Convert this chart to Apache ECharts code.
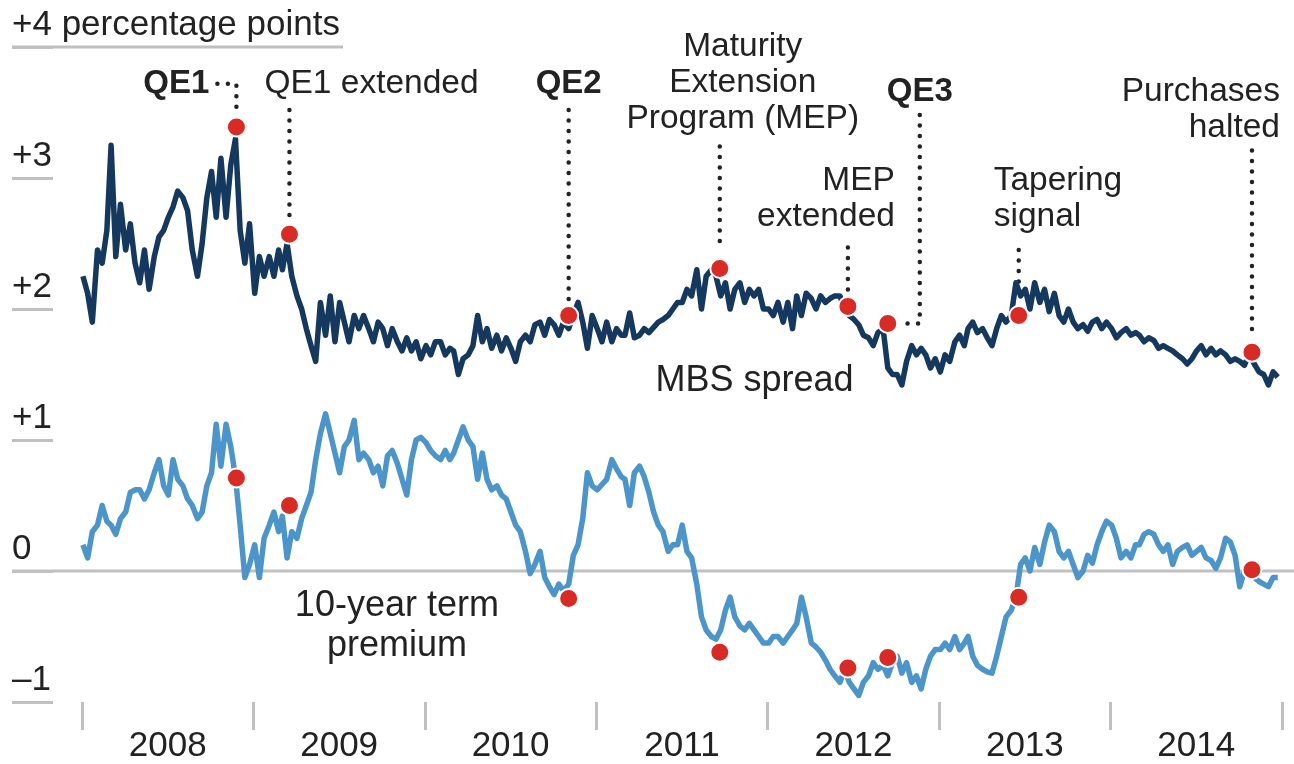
<!DOCTYPE html>
<html>
<head>
<meta charset="utf-8">
<script src="https://cdn.jsdelivr.net/npm/echarts@6/dist/echarts.min.js"></script>
<style>
  html, body { margin: 0; padding: 0; background: #fff; }
  #main { width: 1294px; height: 764px; }
</style>
</head>
<body>
<div id="main"></div>
<script>
  // x axis years, three readings per month
  const years = ['2008', '2009', '2010', '2011', '2012', '2013', '2014'];
  const sampleDays = [3, 13, 23];

  // MBS spread, percentage points (Jan 2008 .. Dec 2014)
  const mbsSpread = [
    2.25, 2.12, 1.9,  2.45, 2.35, 2.6,  3.25, 2.4, 2.8,  2.45, 2.65, 2.35,
    2.2, 2.45, 2.15,  2.4, 2.55, 2.6,  2.7, 2.78, 2.9,  2.85, 2.75, 2.45,
    2.25, 2.5, 2.85,  3.05, 2.7, 3.15,  2.7, 3.1, 3.3,  2.6, 2.35, 2.65,
    // 2009
    2.12, 2.4, 2.25,  2.4, 2.25, 2.45,  2.3, 2.5, 2.25,  2.1, 2.0, 1.85,
    1.72, 1.6, 2.05,  1.8, 2.1, 1.75,  2.05, 1.9, 1.75,  1.95, 1.85, 1.95,
    1.85, 1.75, 1.9,  1.85, 1.72, 1.85,  1.75, 1.68, 1.78,  1.68, 1.75, 1.62,
    // 2010
    1.72, 1.65, 1.75,  1.75, 1.65, 1.7,  1.68, 1.5, 1.62,  1.65, 1.72, 1.95,
    1.75, 1.85, 1.7,  1.8, 1.68, 1.78,  1.7, 1.6, 1.75,  1.8, 1.75, 1.88,
    1.9, 1.8, 1.92,  1.88, 1.8, 1.9,  1.85, 1.95, 2.05,  1.9, 1.7, 1.95,
    // 2011
    1.85, 1.75, 1.9,  1.75, 1.85, 1.8,  1.8, 1.97, 1.78,  1.8, 1.85, 1.82,
    1.86, 1.9, 1.92,  1.95, 2.0, 2.05,  2.05, 2.15, 2.1,  2.3, 2.0, 2.25,
    2.3, 2.25, 2.1,  2.2, 2.0, 2.15,  2.2, 2.05, 2.15,  2.1, 2.15, 2.0,
    // 2012
    2.0, 1.95, 2.05,  1.9, 2.05, 1.85,  2.1, 1.95, 2.12,  2.08, 2.0, 2.1,
    2.05, 2.08, 2.1,  2.1, 2.0, 1.95,  1.92, 1.88, 1.8,  1.78, 1.72, 1.82,
    1.85, 1.55, 1.5,  1.5, 1.42, 1.6,  1.72, 1.65, 1.7,  1.65, 1.55, 1.62,
    // 2013
    1.52, 1.65, 1.6,  1.75, 1.8, 1.72,  1.85, 1.9, 1.82,  1.85, 1.78, 1.72,
    1.85, 1.95, 1.9,  1.95, 2.2, 2.1,  2.15, 2.0, 2.2,  2.05, 2.15, 1.98,
    2.12, 1.95, 1.9,  2.0, 1.9, 1.85,  1.88, 1.83, 1.9,  1.92, 1.85, 1.9,
    // 2014
    1.85, 1.78, 1.82,  1.85, 1.8, 1.82,  1.8, 1.75, 1.78,  1.76, 1.7, 1.72,
    1.7, 1.68, 1.65,  1.62, 1.58, 1.62,  1.68, 1.72, 1.65,  1.7, 1.65, 1.68,
    1.65, 1.6, 1.62,  1.6, 1.57, 1.66,  1.58, 1.52, 1.5,  1.42, 1.52, 1.48
  ];

  // 10-year term premium, percentage points
  const termPremium = [
    0.2, 0.1, 0.3,  0.35, 0.5, 0.38,  0.35, 0.28, 0.4,  0.45, 0.6, 0.62,
    0.62, 0.55, 0.62,  0.75, 0.85, 0.65,  0.58, 0.85, 0.7,  0.65, 0.55, 0.5,
    0.4, 0.45, 0.65,  0.75, 1.12, 0.8,  1.12, 0.95, 0.72,  0.35, -0.05, 0.05,
    // 2009
    0.2, -0.05, 0.25,  0.35, 0.45, 0.3,  0.42, 0.1, 0.3,  0.25, 0.4, 0.5,
    0.6, 0.85, 1.05,  1.2, 1.05, 0.9,  0.75, 0.95, 1.0,  1.15, 0.85, 0.9,
    0.85, 0.75, 0.8,  0.65, 0.88, 0.92,  0.82, 0.7, 0.58,  0.85, 1.0, 1.02,
    // 2010
    0.98, 0.92, 0.88,  0.85, 0.92, 0.85,  0.9, 1.0, 1.1,  1.0, 0.95, 0.7,
    0.9, 0.7, 0.62,  0.65, 0.58, 0.55,  0.45, 0.35, 0.3,  0.15, -0.02, 0.05,
    0.15, -0.05, -0.12,  -0.18, -0.1, -0.15,  -0.1, 0.12, 0.2,  0.4, 0.75, 0.65,
    // 2011
    0.62, 0.66, 0.7,  0.85, 0.78, 0.72,  0.7, 0.5, 0.75,  0.8, 0.72, 0.6,
    0.45, 0.35, 0.3,  0.15, 0.2, 0.2,  0.35, 0.15, 0.1,  -0.1, -0.35, -0.45,
    -0.5, -0.52, -0.45,  -0.3, -0.2, -0.35,  -0.42, -0.45, -0.4,  -0.45, -0.5, -0.55,
    // 2012
    -0.55, -0.5, -0.5,  -0.55, -0.5, -0.45,  -0.4, -0.2, -0.35,  -0.55, -0.58, -0.62,
    -0.68, -0.75, -0.8,  -0.85, -0.75, -0.85,  -0.9, -0.95, -0.85,  -0.8, -0.7, -0.75,
    -0.72, -0.8, -0.7,  -0.65, -0.78, -0.7,  -0.85, -0.8, -0.9,  -0.75, -0.65, -0.6,
    // 2013
    -0.6, -0.55, -0.6,  -0.5, -0.6, -0.55,  -0.5, -0.65, -0.72,  -0.75, -0.77, -0.78,
    -0.65, -0.5, -0.35,  -0.3, -0.2, 0.05,  0.1, 0.0, 0.18,  0.05, 0.22, 0.35,
    0.3, 0.15, 0.1,  0.15, 0.05, -0.05,  0.0, 0.12, 0.06,  0.2, 0.3, 0.38,
    // 2014
    0.35, 0.25, 0.1,  0.15, 0.1, 0.2,  0.2, 0.28, 0.3,  0.28, 0.2, 0.15,
    0.2, 0.05, 0.15,  0.18, 0.2, 0.12,  0.15, 0.18, 0.1,  0.08, 0.02, 0.1,
    0.25, 0.22, 0.12,  -0.12, 0.0, -0.02,  -0.05, -0.08, -0.1,  -0.12, -0.05, -0.05
  ];

  // policy events (red dots)
  const eventNames = ['QE1', 'QE1 extended', 'QE2', 'MEP', 'MEP extended', 'QE3', 'Tapering signal', 'Purchases halted'];
  const eventDates = ['2008-11-25', '2009-03-18', '2010-11-03', '2011-09-21', '2012-06-20', '2012-09-13', '2013-06-19', '2014-10-29'];
  const mbsAtEvent = [3.39, 2.57, 1.95, 2.31, 2.02, 1.89, 1.95, 1.67];
  const tpAtEvent = [0.71, 0.50, -0.21, -0.62, -0.74, -0.66, -0.20, 0.01];

  const yTicks = [-1, 0, 1, 2, 3, 4];
  const yTickLabels = ['\u20131', '0', '+1', '+2', '+3', '+4 percentage points'];

  // where the annotation text and leaders go (y in data units, dx in px)
  const noteLayout = {
    'QE1':              { text: 'QE1', bold: true, y: 3.72, align: 'right', dx: -27, lead: [[-19, 3.72], [0, 3.72], [0, 3.50]] },
    'QE1 extended':     { text: 'QE1 extended', y: 3.72, align: 'left', dx: -25, lead: [[0, 3.52], [0, 2.66]] },
    'QE2':              { text: 'QE2', bold: true, y: 3.72, align: 'center', dx: 0, lead: [[0, 3.52], [0, 2.05]] },
    'MEP':              { text: 'Maturity\nExtension\nProgram (MEP)', y: 3.73, align: 'center', dx: 23, lead: [[0, 3.24], [0, 2.44]] },
    'MEP extended':     { text: 'MEP\nextended', y: 2.84, align: 'right', dx: 47, lead: [[0, 2.47], [0, 2.11]] },
    'QE3':              { text: 'QE3', bold: true, y: 3.66, align: 'left', dx: -1, lead: [[32, 3.48], [32, 1.89], [15, 1.89]] },
    'Tapering signal':  { text: 'Tapering\nsignal', y: 2.84, align: 'left', dx: -25, lead: [[0, 2.45], [0, 2.12]] },
    'Purchases halted': { text: 'Purchases\nhalted', y: 3.52, align: 'right', dx: 28, lead: [[0, 3.21], [0, 1.79]] }
  };

  const FONT = '"Liberation Sans", Arial, Helvetica, sans-serif';
  const INK = '#222222';
  const GRID = '#c0c0c2';

  const dates = [];
  years.forEach(y => {
    for (let m = 1; m <= 12; m++) {
      sampleDays.forEach(d => dates.push(y + '-' + String(m).padStart(2, '0') + '-' + String(d).padStart(2, '0')));
    }
  });

  const chart = echarts.init(document.getElementById('main'));

  const noteData = eventNames.map((name, i) => {
    const n = noteLayout[name];
    return {
      value: [eventDates[i], n.y],
      label: {
        formatter: n.text,
        align: n.align,
        offset: [n.dx, 0],
        fontWeight: n.bold ? 'bold' : 'normal',
        fontSize: n.bold ? 33 : 33.5
      }
    };
  });

  chart.setOption({
    animation: false,
    backgroundColor: '#fff',
    textStyle: { fontFamily: FONT },
    grid: { left: 82, right: 12, top: 47, bottom: 62 },
    xAxis: [
      {
        type: 'time',
        min: +new Date('2008-01-01'),
        max: +new Date('2015-01-01'),
        show: false
      },
      {
        type: 'category',
        data: years,
        position: 'bottom',
        boundaryGap: true,
        axisLine: { show: false },
        axisTick: { show: true, interval: 0, length: 28, lineStyle: { color: GRID, width: 3 } },
        axisLabel: { interval: 0, margin: 27, fontSize: 35, color: INK, fontFamily: FONT },
        splitLine: { show: false }
      }
    ],
    yAxis: {
      type: 'value',
      min: -1,
      max: 4,
      interval: 1,
      offset: 29,
      axisLine: { show: false },
      splitLine: { show: false },
      axisTick: { show: true, length: 41, lineStyle: { color: GRID, width: 3 } },
      axisLabel: {
        align: 'left',
        verticalAlign: 'bottom',
        margin: 41,
        padding: [0, 0, 4, 0],
        fontSize: 35,
        color: INK,
        fontFamily: FONT,
        formatter: v => yTickLabels[yTicks.indexOf(v)]
      }
    },
    series: [
      {
        name: 'MBS spread',
        type: 'line',
        xAxisIndex: 0,
        showSymbol: false,
        data: dates.map((d, i) => [d, mbsSpread[i]]),
        lineStyle: { color: '#15385f', width: 5.5, join: 'round' },
        z: 3
      },
      {
        name: '10-year term premium',
        type: 'line',
        xAxisIndex: 0,
        showSymbol: false,
        data: dates.map((d, i) => [d, termPremium[i]]),
        lineStyle: { color: '#4c95ca', width: 5.5, join: 'round' },
        z: 3
      },
      {
        name: 'events',
        type: 'scatter',
        xAxisIndex: 0,
        symbolSize: 19,
        itemStyle: { color: '#d92b26', borderColor: '#fff', borderWidth: 2, opacity: 1 },
        data: eventDates.map((d, i) => [d, mbsAtEvent[i]]).concat(eventDates.map((d, i) => [d, tpAtEvent[i]])),
        z: 5
      },
      {
        name: 'notes',
        type: 'scatter',
        xAxisIndex: 0,
        symbolSize: 1,
        itemStyle: { color: 'rgba(0,0,0,0)', opacity: 1 },
        silent: true,
        label: {
          show: true,
          position: 'inside',
          verticalAlign: 'middle',
          color: INK,
          opacity: 1,
          fontSize: 33.5,
          lineHeight: 36,
          fontFamily: FONT
        },
        data: noteData.concat([
          { value: ['2011-12-04', 1.45], label: { formatter: 'MBS spread', align: 'center', fontSize: 36 } },
          { value: ['2009-11-02', -0.42], label: { formatter: '10-year term\npremium', align: 'center', fontSize: 36, lineHeight: 40 } }
        ]),
        z: 6
      }
    ]
  });

  // gridline extras and dotted leaders, placed through the chart's own scales
  const toPx = (d, v) => chart.convertToPixel({ seriesIndex: 0 }, [d, v]);
  const y0 = toPx('2008-01-01', 0)[1];
  const y4 = toPx('2008-01-01', 4)[1];
  const graphics = [
    { type: 'line', z: 0, shape: { x1: 12, y1: y0, x2: 1294, y2: y0 }, style: { stroke: GRID, lineWidth: 3 } },
    { type: 'line', z: 0, shape: { x1: 12, y1: y4, x2: 343, y2: y4 }, style: { stroke: GRID, lineWidth: 3 } }
  ];
  eventNames.forEach((name, i) => {
    const ex = toPx(eventDates[i], 0)[0];
    const pts = noteLayout[name].lead.map(p => [ex + p[0], toPx(eventDates[i], p[1])[1]]);
    graphics.push({
      type: 'polyline',
      z: 1,
      shape: { points: pts },
      style: { stroke: INK, lineWidth: 4.5, lineDash: [0, 10.5], lineCap: 'round', fill: null }
    });
  });
  chart.setOption({ graphic: graphics });
</script>
</body>
</html>
